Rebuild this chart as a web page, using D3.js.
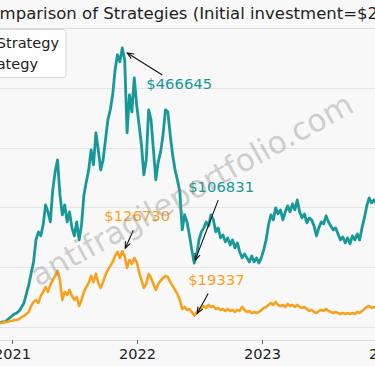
<!DOCTYPE html>
<html><head><meta charset="utf-8">
<script src="https://cdn.jsdelivr.net/npm/d3@7"></script>
<style>body{margin:0;background:#f8f8f8;}svg{display:block;font-family:"DejaVu Sans",sans-serif;}</style>
</head><body><svg id="c" width="375" height="366"></svg>
<script>
// ---- data (weekly, starting 2020-11-27) ----
const startDate = "2020-11-27";
const seriesNames = ["Antifragile Strategy", "HODL Strategy"];
const tealValues = [6700,8400,8400,11700,15000,18400,21800,23400,26800,33500,40200,55200,70300,90400,108800,145600,159000,152300,170700,204200,192500,175700,229300,259400,279500,220900,187400,204200,175700,192500,165700,152300,175700,145600,170700,220900,242700,262800,296200,271100,324700,296200,262800,279500,313000,346400,363200,388300,430100,455200,443500,466645,446800,324700,388300,359800,416700,371500,338100,304600,254400,279500,363200,346400,296200,246000,276100,292900,321300,363200,359800,321300,287900,262800,246000,226000,162300,187400,175700,154000,128900,106831,120500,145600,159000,165700,175700,169000,187400,179100,159000,165700,149000,154000,142300,149000,137200,145600,132200,140600,125500,115500,122200,115500,108800,118800,108800,115500,107100,115500,128900,145600,170700,187400,179100,199200,189100,195800,179100,192500,202500,192500,205900,195800,212500,192500,182400,189100,174100,182400,179100,169000,152300,165700,175700,172400,185800,175700,169000,162300,165700,155600,145600,150600,140600,149000,139000,152300,145600,155600,145600,165700,182400,202500,215900,207500,212500,205900];
const orangeValues = [6700,6700,8400,8400,10000,10000,11700,11700,13400,16700,18400,21800,25100,35100,41800,45200,40200,51900,58600,66900,58600,70300,78700,85400,93700,78700,45200,58600,53600,61900,51900,45200,50200,35100,45200,58600,66900,73600,85400,75300,88700,73600,65300,75300,87000,95400,102100,108800,118800,125500,115500,126730,118800,98700,112100,105400,115500,108800,92000,78700,65300,72000,88700,82000,72000,61900,72000,77000,82000,85400,83700,75300,68600,61900,55200,45200,30100,33500,28500,30100,25100,19337,23400,30100,31800,35100,31800,36800,33500,35100,30100,31800,28500,30100,26800,30100,26800,28500,25100,28500,26800,33500,28500,25100,26800,23400,25100,23400,25100,28500,31800,33500,36800,40200,36800,41800,36800,35100,36800,33500,38500,35100,36800,33500,36800,33500,31800,33500,30100,26800,28500,25100,23400,26800,28500,26800,30100,26800,25100,23400,25100,23400,21800,23400,21800,23400,21800,23400,21800,25100,23400,26800,30100,33500,35100,31800,33500,31800];
const yTicks = [0,100000,200000,300000,400000,500000];
const xTickYears = ["2021","2022","2023","2024"];
const titleText = "Comparison of Strategies (Initial investment=$20000)";
const watermark = "antifragileportfolio.com";

const teal = "#17999a", orange = "#f7a21d";
const svg = d3.select("#c");
const W = 375, H = 366;
const t0 = new Date(startDate + "T00:00:00");
const dates = tealValues.map((_, i) => d3.timeDay.offset(t0, i * 7));

const x = d3.scaleTime().domain([new Date("2021-01-01T00:00:00"), new Date("2024-01-01T00:00:00")]).range([12, 387]);
const y = d3.scaleLinear().domain([-21800, 500000]).range([340, 28]);

svg.append("rect").attr("width", W).attr("height", H).attr("fill", "#f8f8f8");

// gridlines
svg.append("g").selectAll("line").data(yTicks.slice(0, -1)).join("line")
  .attr("x1", -10).attr("x2", W + 10)
  .attr("y1", d => Math.round(y(d)) + 0.5).attr("y2", d => Math.round(y(d)) + 0.5)
  .attr("stroke", "#e3e3e3").attr("stroke-width", 1);
// top spine
svg.append("line").attr("x1", -10).attr("x2", W + 10)
  .attr("y1", Math.round(y(500000)) + 0.5).attr("y2", Math.round(y(500000)) + 0.5)
  .attr("stroke", "#dcdcdc");

// x axis
const xAxis = d3.axisBottom(x)
  .tickValues(xTickYears.map(s => new Date(s + "-01-01T00:00:00")))
  .tickFormat(d3.timeFormat("%Y")).tickSizeOuter(0).tickSize(4).tickPadding(5);
const gx = svg.append("g").attr("transform", "translate(0," + 340 + ")").call(xAxis);
gx.select(".domain").attr("d", "M-10,0.5H" + (W + 10)).attr("stroke", "#dcdcdc");
gx.selectAll(".tick line").attr("stroke", "#666");
gx.selectAll(".tick text").attr("font-size", "14.5px").attr("fill", "#222").attr("font-family", "DejaVu Sans");

// lines
const line = d3.line().x((d, i) => x(dates[i])).y(d => y(d)).curve(d3.curveLinear);
svg.append("path").datum(tealValues).attr("d", line).attr("fill", "none")
  .attr("stroke", teal).attr("stroke-width", 2.8).attr("stroke-linejoin", "round");
svg.append("path").datum(orangeValues).attr("d", line).attr("fill", "none")
  .attr("stroke", orange).attr("stroke-width", 2.6).attr("stroke-linejoin", "round");

// annotations
const iPeakT = d3.maxIndex(tealValues);
const iMinT = iPeakT + d3.minIndex(tealValues.slice(iPeakT));
const iPeakO = d3.maxIndex(orangeValues);
const iMinO = iPeakO + d3.minIndex(orangeValues.slice(iPeakO));
const notes = [
  {i: iPeakT, v: tealValues[iPeakT], c: teal, tx: 24, ty: 41, ax: 40, ay: 27, hx: 5, hy: 5},
  {i: iMinT, v: tealValues[iMinT], c: teal, tx: -6, ty: -71, ax: 24, ay: -63, hx: 1, hy: -3},
  {i: iPeakO, v: orangeValues[iPeakO], c: orange, tx: -18, ty: -30, ax: 11, ay: -21, hx: 3, hy: -3},
  {i: iMinO, v: orangeValues[iMinO], c: orange, tx: -6, ty: -30, ax: 14, ay: -22, hx: 3, hy: -2},
];
const ag = svg.append("g");
notes.forEach(n => {
  const px = x(dates[n.i]), py = y(n.v);
  const hx = px + n.hx, hy = py + n.hy, tx = px + n.ax, ty = py + n.ay;
  ag.append("line").attr("x1", tx).attr("y1", ty).attr("x2", hx).attr("y2", hy)
    .attr("stroke", "#111").attr("stroke-width", 1.1);
  const ang = Math.atan2(hy - ty, hx - tx), L = 7, a = 0.4;
  ag.append("path")
    .attr("d", `M${hx - L * Math.cos(ang - a)},${hy - L * Math.sin(ang - a)}L${hx},${hy}L${hx - L * Math.cos(ang + a)},${hy - L * Math.sin(ang + a)}`)
    .attr("fill", "none").attr("stroke", "#111").attr("stroke-width", 1.1);
  ag.append("text").attr("x", px + n.tx).attr("y", py + n.ty).attr("fill", n.c)
    .attr("font-size", "14.8px").text("$" + n.v);
});

// legend
const lg = svg.append("g");
lg.append("rect").attr("x", -60).attr("y", 29.5).attr("width", 126).attr("height", 48).attr("rx", 3)
  .attr("fill", "#ffffff").attr("fill-opacity", 0.85).attr("stroke", "#d8d8d8");
lg.append("text").attr("x", 59).attr("y", 47.5).attr("text-anchor", "end").attr("font-size", "14.5px").attr("fill", "#222").text(seriesNames[0]);
lg.append("text").attr("x", 38).attr("y", 68.5).attr("text-anchor", "end").attr("font-size", "14.5px").attr("fill", "#222").text(seriesNames[1]);

// title
svg.append("text").attr("x", -22).attr("y", 19).attr("font-size", "16.5px").attr("fill", "#222").text(titleText);

// watermark
svg.append("text").attr("transform", "translate(38,287) rotate(-29)")
  .attr("font-size", "31px").attr("fill", "#888").attr("fill-opacity", 0.4).text(watermark);
</script></body></html>
